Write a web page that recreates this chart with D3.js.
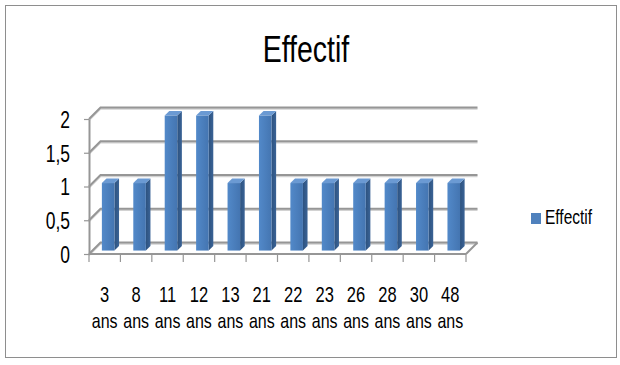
<!DOCTYPE html>
<html>
<head>
<meta charset="utf-8">
<script src="https://cdn.jsdelivr.net/npm/d3@7/dist/d3.min.js"></script>
<style>
  html, body { margin: 0; padding: 0; background: #fff; }
  svg { display: block; }
  text { font-family: "Liberation Sans", Arial, sans-serif; fill: #000; }
</style>
</head>
<body>
<svg id="chart" width="620" height="365"></svg>
<script>
// Chart data
const ages = ["3", "8", "11", "12", "13", "21", "22", "23", "26", "28", "30", "48"];
const ageUnit = "ans";
const effectif = [1, 1, 2, 2, 1, 2, 1, 1, 1, 1, 1, 1];
const yTicks = [0, 0.5, 1, 1.5, 2];
const seriesName = "Effectif";
const chartTitle = "Effectif";

const svg = d3.select("#chart");
const K = 1.32; // vertical stretch of the tall, narrow lettering

// Text drawn with a vertical stretch around its anchor point
function tallText(parent, px, py, str, size, anchor) {
  return parent.append("text")
    .attr("transform", `translate(${px},${py}) scale(1,${K})`)
    .attr("text-anchor", anchor || "start")
    .style("font-size", size + "px")
    .text(str);
}

// Outer frame
svg.append("rect")
  .attr("x", 5.5).attr("y", 5.5)
  .attr("width", 611).attr("height", 352)
  .attr("fill", "#fff").attr("stroke", "#8e8e8e").attr("stroke-width", 1);

// Front plane scales
const x = d3.scaleBand().domain(ages).range([89, 466]).padding(0);
const y = d3.scaleLinear().domain([0, 2]).range([254, 119]);
const D = 11.5; // depth of the 3D box (x shift right, y shift up)

const fr = d3.formatLocale({ decimal: ",", thousands: " ", grouping: [3], currency: ["", ""] });
const fmt = fr.format("~g");

const defs = svg.append("defs");
const gFront = defs.append("linearGradient").attr("id", "barFront").attr("x1", 0).attr("x2", 1).attr("y1", 0).attr("y2", 0);
gFront.append("stop").attr("offset", "0%").attr("stop-color", "#5289c9");
gFront.append("stop").attr("offset", "100%").attr("stop-color", "#4475b1");
const gSide = defs.append("linearGradient").attr("id", "barSide").attr("x1", 0).attr("x2", 1).attr("y1", 0).attr("y2", 0);
gSide.append("stop").attr("offset", "0%").attr("stop-color", "#2d527f");
gSide.append("stop").attr("offset", "100%").attr("stop-color", "#3a6396");

const x0 = x.range()[0], x1 = x.range()[1];

// Back wall gridlines and left wall diagonals
const grid = svg.append("g");
yTicks.forEach(t => {
  const yy = y(t);
  grid.append("path")
    .attr("d", `M${x0},${yy + 1.4}L${x0 + D},${yy - D + 1.4}L${x1 + D},${yy - D + 1.4}`)
    .attr("fill", "none").attr("stroke", "#d2d2d2").attr("stroke-width", 1.6);
  grid.append("path")
    .attr("d", `M${x0},${yy}L${x0 + D},${yy - D}L${x1 + D},${yy - D}`)
    .attr("fill", "none").attr("stroke", "#969696").attr("stroke-width", 2);
});

// Floor right edge
grid.append("path")
  .attr("d", `M${x1},${y(0)}L${x1 + D},${y(0) - D}`)
  .attr("fill", "none").attr("stroke", "#969696").attr("stroke-width", 2);

// Bars as 3D columns
const step = x.bandwidth();
const bw = step * 0.4;
const zF = 0.3 * D, zB = 0.7 * D, s = zB - zF;
const bars = svg.append("g");
ages.forEach((a, i) => {
  const xl = x(a) + (step - bw) / 2 + zF;
  const xr = xl + bw;
  const yb = y(0) - zF;
  const yt = y(effectif[i]) - zF;
  const g = bars.append("g");
  g.append("path")
    .attr("d", `M${xr},${yt}L${xr + s},${yt - s}L${xr + s},${yb - s}L${xr},${yb}Z`)
    .attr("fill", "url(#barSide)");
  g.append("path")
    .attr("d", `M${xl},${yt}L${xl + s},${yt - s}L${xr + s},${yt - s}L${xr},${yt}Z`)
    .attr("fill", "#6b9ad3");
  g.append("rect")
    .attr("x", xl).attr("y", yt)
    .attr("width", bw).attr("height", yb - yt)
    .attr("fill", "url(#barFront)");
});

// Front baseline with category boundary ticks
const xAxis = svg.append("g");
xAxis.append("line")
  .attr("x1", x0).attr("x2", x1).attr("y1", y(0)).attr("y2", y(0))
  .attr("stroke", "#969696").attr("stroke-width", 2);
const bounds = ages.map(a => x(a)).concat([x1]);
xAxis.selectAll("line.tk").data(bounds).join("line")
  .attr("class", "tk")
  .attr("x1", d => d).attr("x2", d => d)
  .attr("y1", y(0)).attr("y2", y(0) + 8)
  .attr("stroke", "#969696").attr("stroke-width", 1.2);

// Category labels (two lines)
const lab = svg.append("g")
  .attr("transform", `translate(0,${y(0)})`)
  .call(d3.axisBottom(x).tickSize(0).tickFormat(""));
lab.select(".domain").remove();
lab.selectAll(".tick").each(function (d) {
  const tk = d3.select(this);
  tallText(tk, 0, 48, d, 16.5, "middle");
  tallText(tk, 0, 74, ageUnit, 16, "middle");
});

// Value axis
const yAxis = svg.append("g")
  .attr("transform", `translate(${x0},0)`)
  .call(d3.axisLeft(y).tickValues(yTicks).tickFormat(fmt).tickSize(5).tickSizeOuter(0).tickPadding(14));
yAxis.select(".domain").attr("stroke", "#969696").attr("stroke-width", 2);
yAxis.selectAll(".tick line").attr("stroke", "#969696").attr("stroke-width", 1.2);
yAxis.selectAll(".tick text")
  .attr("fill", "#000")
  .attr("font-family", null)
  .attr("font-size", null)
  .style("font-size", "17.5px")
  .attr("dy", "0.36em")
  .attr("transform", `scale(1,${K})`);

// Title
tallText(svg, 306, 62, chartTitle, 28.5, "middle");

// Legend
const leg = svg.append("g").attr("transform", "translate(531,213)");
leg.append("rect").attr("width", 10).attr("height", 11).attr("fill", "#4f81bd");
tallText(leg, 14, 11, seriesName, 15.5, "start");
</script>
</body>
</html>
